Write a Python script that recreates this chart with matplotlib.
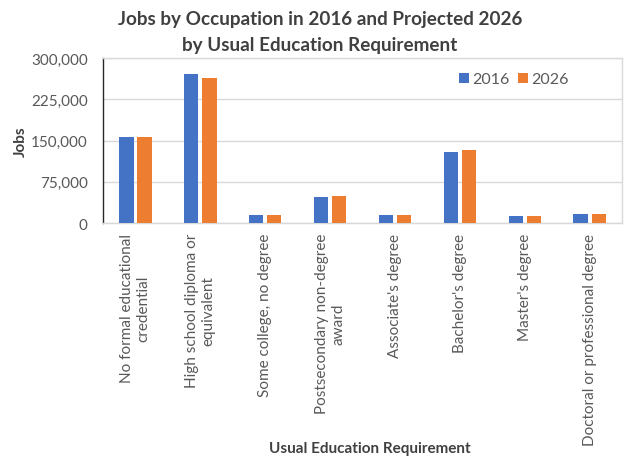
import matplotlib
matplotlib.use("Agg")
import matplotlib.pyplot as plt
import numpy as np

categories = [
    "No formal educational\ncredential",
    "High school diploma or\nequivalent",
    "Some college, no degree",
    "Postsecondary non-degree\naward",
    "Associate's degree",
    "Bachelor's degree",
    "Master's degree",
    "Doctoral or professional degree",
]
jobs_2016 = [156200, 270100, 15400, 48300, 14100, 128700, 12300, 15900]
jobs_2026 = [156500, 263400, 15500, 50100, 14500, 132400, 12800, 17200]
series_names = ["2016", "2026"]
yticks = [0, 75000, 150000, 225000, 300000]

plt.rcParams['font.family'] = ['Lato', 'DejaVu Sans']

fig = plt.figure(figsize=(6.4, 4.64), dpi=100)
ax = fig.add_axes([0.161, 0.517, 0.811, 0.356])

x = np.arange(len(categories))
w = 0.22
off = 0.14
ax.bar(x - off, jobs_2016, w, color="#4472C4", label=series_names[0], zorder=3)
ax.bar(x + off, jobs_2026, w, color="#ED7D31", label=series_names[1], zorder=3)

ax.set_xlim(-0.5, len(categories) - 0.5)
ax.set_ylim(0, 300000)
ax.set_yticks(yticks)
ax.set_yticklabels([f"{v:,}" for v in yticks], fontsize=11, color="#595959")
ax.yaxis.grid(True, color="#D9D9D9", linewidth=1, zorder=0)
ax.tick_params(axis='y', length=0, pad=11)
ax.tick_params(axis='x', length=0, pad=7)
ax.set_xticks(x)
ax.set_xticklabels(categories, rotation=90, fontsize=11, color="#595959",
                   va='top', ha='center', multialignment='center')

for s in ['top', 'right', 'bottom']:
    ax.spines[s].set_color("#D9D9D9")
    ax.spines[s].set_linewidth(1)
ax.spines['left'].set_color("#262626")
ax.spines['left'].set_linewidth(1)

ax.set_ylabel("Jobs", fontsize=11, fontweight='bold', color="#404040", labelpad=2)
fig.text(0.578, 0.033, "Usual Education Requirement", ha='center', va='center',
         fontsize=11, fontweight='bold', color="#404040")

fig.text(0.5, 0.957, "Jobs by Occupation in 2016 and Projected 2026",
         ha='center', va='center', fontsize=13.6, fontweight='bold', color="#404040")
fig.text(0.5, 0.903, "by Usual Education Requirement",
         ha='center', va='center', fontsize=13.6, fontweight='bold', color="#404040")

leg = ax.legend(loc='upper right', bbox_to_anchor=(0.915, 0.97), ncol=2, frameon=False,
                handlelength=0.6, handleheight=0.6, handletextpad=0.2, columnspacing=0.55,
                fontsize=11.5, borderaxespad=0.2)
for t in leg.get_texts():
    t.set_color("#595959")

fig.savefig("out.png", dpi=100, facecolor="white")
